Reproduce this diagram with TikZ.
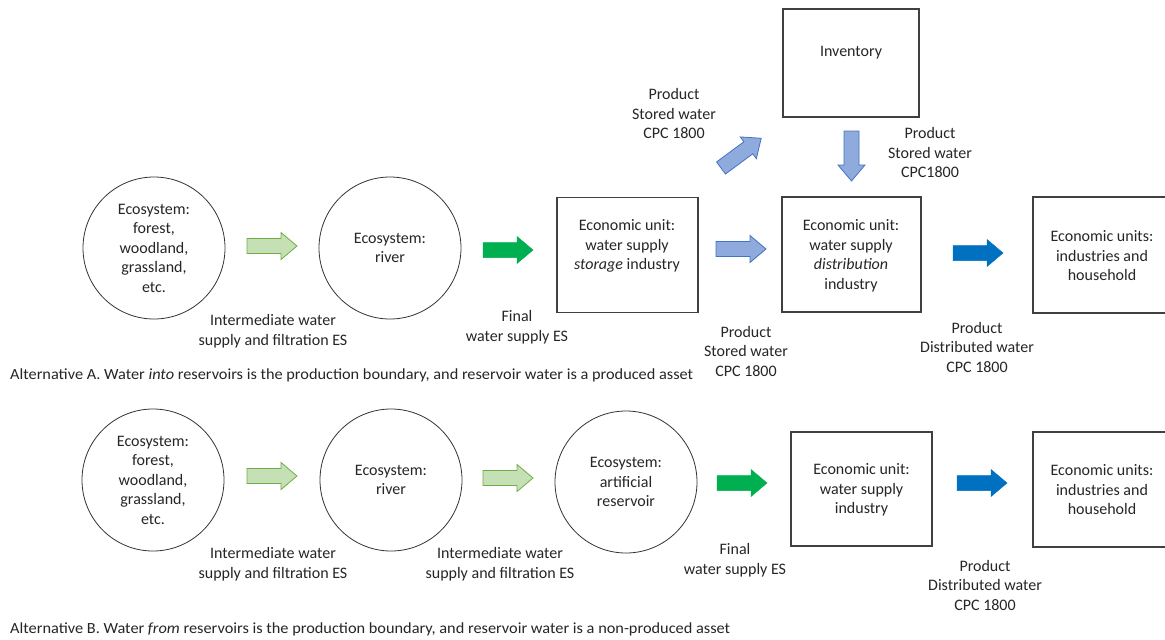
\documentclass[tikz,border=0pt]{standalone}
\usepackage{fontspec}
\setmainfont{Carlito}
\usepackage{graphicx}
\definecolor{txt}{RGB}{38,38,38}
\definecolor{lgfill}{RGB}{197,224,180}
\definecolor{lgdraw}{RGB}{112,173,71}
\definecolor{dgfill}{RGB}{0,176,80}
\definecolor{lbfill}{RGB}{143,170,220}
\definecolor{lbdraw}{RGB}{68,114,196}
\definecolor{dbfill}{RGB}{0,112,192}
\definecolor{boxline}{RGB}{64,64,64}
\begin{document}
\begin{tikzpicture}[x=1pt,y=-1pt,
  every node/.style={text=txt, font=\fontsize{16}{19.5}\selectfont, align=center, inner sep=0pt},
  eco/.style={circle, draw=black!80, line width=0.8pt, minimum size=142pt},
  ecobox/.style={rectangle, draw=boxline, line width=1.1pt},
  lbl/.style={align=center},
  caption/.style={anchor=west, font=\fontsize{15.5}{19}\selectfont},
  pics/barrow/.style={code={
    \path[pic actions] (0,-7.5) -- (34,-7.5) -- (34,-13.5) -- (50,0) -- (34,13.5) -- (34,7.5) -- (0,7.5) -- cycle;}},
  lgarrow/.style={fill=lgfill, draw=lgdraw, line width=0.8pt},
  dgarrow/.style={fill=dgfill, draw=dgfill, line width=0.5pt},
  lbarrow/.style={fill=lbfill, draw=lbdraw, line width=0.8pt},
  dbarrow/.style={fill=dbfill, draw=dbfill, line width=0.5pt}
]
\useasboundingbox (0,0) rectangle (1165,640);
\clip (0,0) rectangle (1165,640);
\fill[white] (0,0) rectangle (1165,640);

% ---------- Alternative A ----------
\node[eco] (a1) at (154,248) {Ecosystem:\\forest,\\woodland,\\grassland,\\etc.};
\node[eco] (a2) at (390,248) {Ecosystem:\\river};
\node[ecobox, minimum width=141pt, minimum height=115pt] (a3) at (627.5,255) {};
\node (a3t) at (627,246) {Economic unit:\\water supply\\\textit{storage} industry};
\node[ecobox, minimum width=139pt, minimum height=115pt] (a4) at (851.5,254.5) {};
\node (a4t) at (851,256) {Economic unit:\\water supply\\\textit{distribution}\\industry};
\node[ecobox, minimum width=136pt, minimum height=108pt] (inv) at (851,63) {};
\node (invt) at (851,53) {Inventory};
\node[ecobox, minimum width=140pt, minimum height=116pt] (a5) at (1103,255) {};
\node (a5t) at (1102,256) {Economic units:\\industries and\\household};

\pic[lgarrow] at (247,246) {barrow};
\pic[dgarrow] at (483,250) {barrow};
\pic[lbarrow] at (716,249) {barrow};
\pic[dbarrow] at (953,253) {barrow};
\pic[lbarrow, rotate=-90] at (851.5,131) {barrow};
\pic[lbarrow, rotate=36.5] at (721,168) {barrow};

\node[lbl] (la1) at (273,331) {Intermediate water\\supply and filtration ES};
\node[lbl] (la2) at (517,327) {Final\\water supply ES};
\node[lbl] (la3) at (674,114) {Product\\Stored water\\CPC 1800};
\node[lbl] (la4) at (930,153) {Product\\Stored water\\CPC1800};
\node[lbl] (la5) at (746,351) {Product\\Stored water\\CPC 1800};
\node[lbl] (la6) at (977,347) {Product\\Distributed water\\CPC 1800};
\node[caption] (capA) at (10,375) {\resizebox{683pt}{\height}{Alternative A. Water \textit{into} reservoirs is the production boundary, and reservoir water is a produced asset}};

% ---------- Alternative B ----------
\node[eco] (b1) at (153,480) {Ecosystem:\\forest,\\woodland,\\grassland,\\etc.};
\node[eco] (b2) at (391,480) {Ecosystem:\\river};
\node[eco] (b3) at (626,482) {Ecosystem:\\artificial\\reservoir};
\node[ecobox, minimum width=141pt, minimum height=114pt] (b4) at (861.5,489) {};
\node (b4t) at (861.5,490) {Economic unit:\\water supply\\industry};
\node[ecobox, minimum width=140pt, minimum height=115pt] (b5) at (1103,489.5) {};
\node (b5t) at (1102,490) {Economic units:\\industries and\\household};

\pic[lgarrow] at (247,476) {barrow};
\pic[lgarrow] at (483,478) {barrow};
\pic[dgarrow] at (717,483) {barrow};
\pic[dbarrow] at (957,483) {barrow};

\node[lbl] (lb1) at (273,564) {Intermediate water\\supply and filtration ES};
\node[lbl] (lb2) at (500,564) {Intermediate water\\supply and filtration ES};
\node[lbl] (lb3) at (735,560) {Final\\water supply ES};
\node[lbl] (lb4) at (985,585) {Product\\Distributed water\\CPC 1800};
\node[caption] (capB) at (10,629) {\resizebox{720pt}{\height}{Alternative B. Water \textit{from} reservoirs is the production boundary, and reservoir water is a non-produced asset}};
\end{tikzpicture}
\end{document}
